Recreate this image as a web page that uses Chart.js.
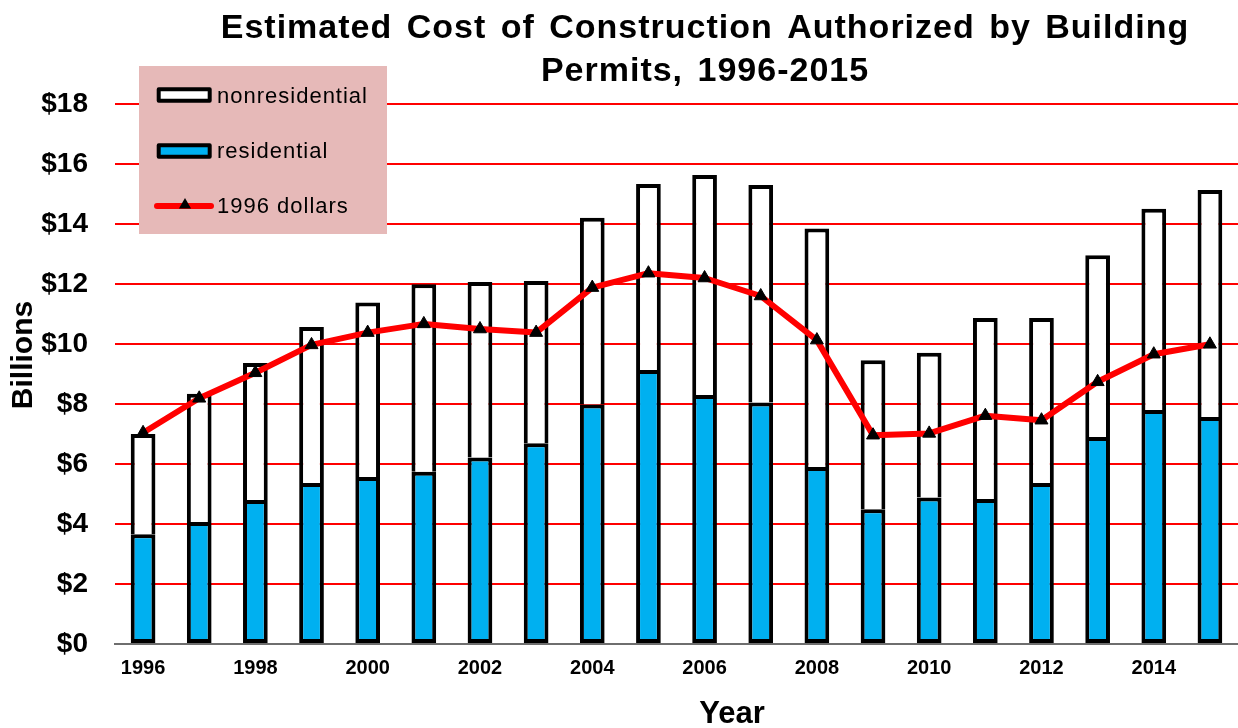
<!DOCTYPE html>
<html>
<head>
<meta charset="utf-8">
<script src="https://cdn.jsdelivr.net/npm/chart.js@4.4.1/dist/chart.umd.min.js"></script>
<style>
  html, body { margin: 0; padding: 0; background: #ffffff; }
  #wrap { position: relative; width: 1238px; height: 728px; }
</style>
</head>
<body>
<div id="wrap"><canvas id="c"></canvas></div>
<script>
// ---- data (billions of dollars) ----
const years = ['1996','1997','1998','1999','2000','2001','2002','2003','2004','2005',
               '2006','2007','2008','2009','2010','2011','2012','2013','2014','2015'];
const residential    = [3.66, 4.07, 4.80, 5.37, 5.57, 5.74, 6.22, 6.69, 7.98, 9.13,
                        8.30, 8.05, 5.90, 4.49, 4.88, 4.83, 5.37, 6.90, 7.80, 7.57];
const nonresidential = [3.34, 4.27, 4.57, 5.20, 5.81, 6.25, 5.85, 5.41, 6.23, 6.20,
                        7.33, 7.25, 7.95, 4.97, 4.83, 6.04, 5.50, 6.06, 6.71, 7.56];
const dollars1996    = [7.04, 8.19, 9.04, 9.97, 10.38, 10.67, 10.50, 10.38, 11.88, 12.36,
                        12.20, 11.60, 10.13, 6.96, 7.02, 7.61, 7.46, 8.74, 9.66, 9.99];
const yMin = 0, yMax = 18, yStep = 2;
const titleLines = ['Estimated Cost of Construction Authorized by Building', 'Permits, 1996-2015'];
const yTitle = 'Billions';
const xTitle = 'Year';
const seriesLabels = ['residential', 'nonresidential', '1996 dollars'];

const FONT = "'Liberation Sans', Arial, sans-serif";

function setSpacing(ctx, ls, ws) {
  if ('letterSpacing' in ctx) ctx.letterSpacing = ls;
  if ('wordSpacing' in ctx) ctx.wordSpacing = ws;
}

const overlay = {
  id: 'overlay',
  afterDraw(chart) {
    const ctx = chart.ctx;
    const ds = chart.data.datasets;
    ctx.save();
    ctx.fillStyle = '#000';

    // Title
    ctx.font = 'bold 34px ' + FONT;
    ctx.textAlign = 'center';
    ctx.textBaseline = 'alphabetic';
    setSpacing(ctx, '1px', '4px');
    ctx.fillText(titleLines[0], 705, 38);
    ctx.fillText(titleLines[1], 705, 81);
    setSpacing(ctx, '0px', '0px');

    // Axis titles
    ctx.font = 'bold 31px ' + FONT;
    ctx.fillText(xTitle, 732, 723);
    ctx.save();
    ctx.translate(24, 355);
    ctx.rotate(-Math.PI / 2);
    ctx.font = 'bold 30px ' + FONT;
    ctx.textBaseline = 'middle';
    ctx.fillText(yTitle, 0, 0);
    ctx.restore();

    // Legend box
    ctx.fillStyle = '#E6B9B8';
    ctx.fillRect(139, 66, 248, 168);

    const order = [1, 0, 2];
    const baselines = [102.7, 157.5, 213.3];
    const iconMid = [95, 151, 206];
    ctx.font = '22px ' + FONT;
    ctx.textAlign = 'left';
    setSpacing(ctx, '1px', '0px');
    order.forEach((di, k) => {
      const d = ds[di];
      const cy = iconMid[k];
      if (d.type === 'line') {
        ctx.strokeStyle = d.borderColor;
        ctx.lineWidth = 6;
        ctx.lineCap = 'round';
        ctx.beginPath();
        ctx.moveTo(157, cy);
        ctx.lineTo(211, cy);
        ctx.stroke();
        const r = 7, tx = 185, ty = cy - 1;
        ctx.fillStyle = '#000';
        ctx.beginPath();
        ctx.moveTo(tx, ty - r);
        ctx.lineTo(tx + r * Math.sin(Math.PI * 2 / 3), ty - r * Math.cos(Math.PI * 2 / 3));
        ctx.lineTo(tx + r * Math.sin(Math.PI * 4 / 3), ty - r * Math.cos(Math.PI * 4 / 3));
        ctx.closePath();
        ctx.fill();
      } else {
        ctx.fillStyle = d.backgroundColor;
        ctx.strokeStyle = '#000';
        ctx.lineWidth = 4;
        ctx.lineJoin = 'round';
        ctx.beginPath();
        ctx.rect(158.7, cy - 5.7, 51, 11.4);
        ctx.fill();
        ctx.stroke();
      }
      ctx.fillStyle = '#000';
      ctx.fillText(d.label, 217, baselines[k]);
    });
    setSpacing(ctx, '0px', '0px');
    ctx.restore();
  }
};

new Chart(document.getElementById('c'), {
  type: 'bar',
  data: {
    labels: years,
    datasets: [
      {
        type: 'bar', label: seriesLabels[0], data: residential, stack: 'bars', order: 1,
        backgroundColor: '#00B0F0', borderColor: '#000000', borderWidth: 4, borderSkipped: false,
        barPercentage: 0.44, categoryPercentage: 1
      },
      {
        type: 'bar', label: seriesLabels[1], data: nonresidential, stack: 'bars', order: 1,
        backgroundColor: '#FFFFFF', borderColor: '#000000', borderWidth: 4, borderSkipped: 'start',
        barPercentage: 0.44, categoryPercentage: 1
      },
      {
        type: 'line', label: seriesLabels[2], data: dollars1996, stack: 'line', order: 0,
        borderColor: '#FF0000', borderWidth: 6, tension: 0, fill: false,
        borderJoinStyle: 'round', borderCapStyle: 'round',
        pointStyle: 'triangle', pointRadius: 7.5, pointBackgroundColor: '#000000',
        pointBorderColor: '#000000', pointBorderWidth: 1
      }
    ]
  },
  options: {
    responsive: true,
    maintainAspectRatio: false,
    animation: false,
    layout: { autoPadding: false, padding: { top: 104, right: 0, left: 0, bottom: 0 } },
    plugins: { legend: { display: false }, title: { display: false }, tooltip: { enabled: false } },
    scales: {
      x: {
        stacked: true,
        grid: { display: false, drawTicks: false },
        border: { display: true, color: '#6e6e6e', width: 2 },
        ticks: {
          autoSkip: false, maxRotation: 0, minRotation: 0, padding: 12, color: '#000',
          font: { family: FONT, size: 20, weight: 'bold' },
          callback: function (v, i) { return i % 2 === 0 ? years[i] : ''; }
        },
        afterFit: function (s) { s.height = 84; }
      },
      y: {
        stacked: true, min: yMin, max: yMax,
        border: { display: false },
        grid: {
          color: function (c) { return (c.tick && c.tick.value === 0) ? 'rgba(0,0,0,0)' : '#FF0000'; },
          lineWidth: 2, drawTicks: false
        },
        ticks: {
          stepSize: yStep, padding: 27, color: '#000',
          font: { family: FONT, size: 28, weight: 'bold' },
          callback: function (v) { return '$' + v; }
        },
        afterFit: function (s) { s.width = 115; }
      }
    }
  },
  plugins: [overlay]
});
</script>
</body>
</html>
